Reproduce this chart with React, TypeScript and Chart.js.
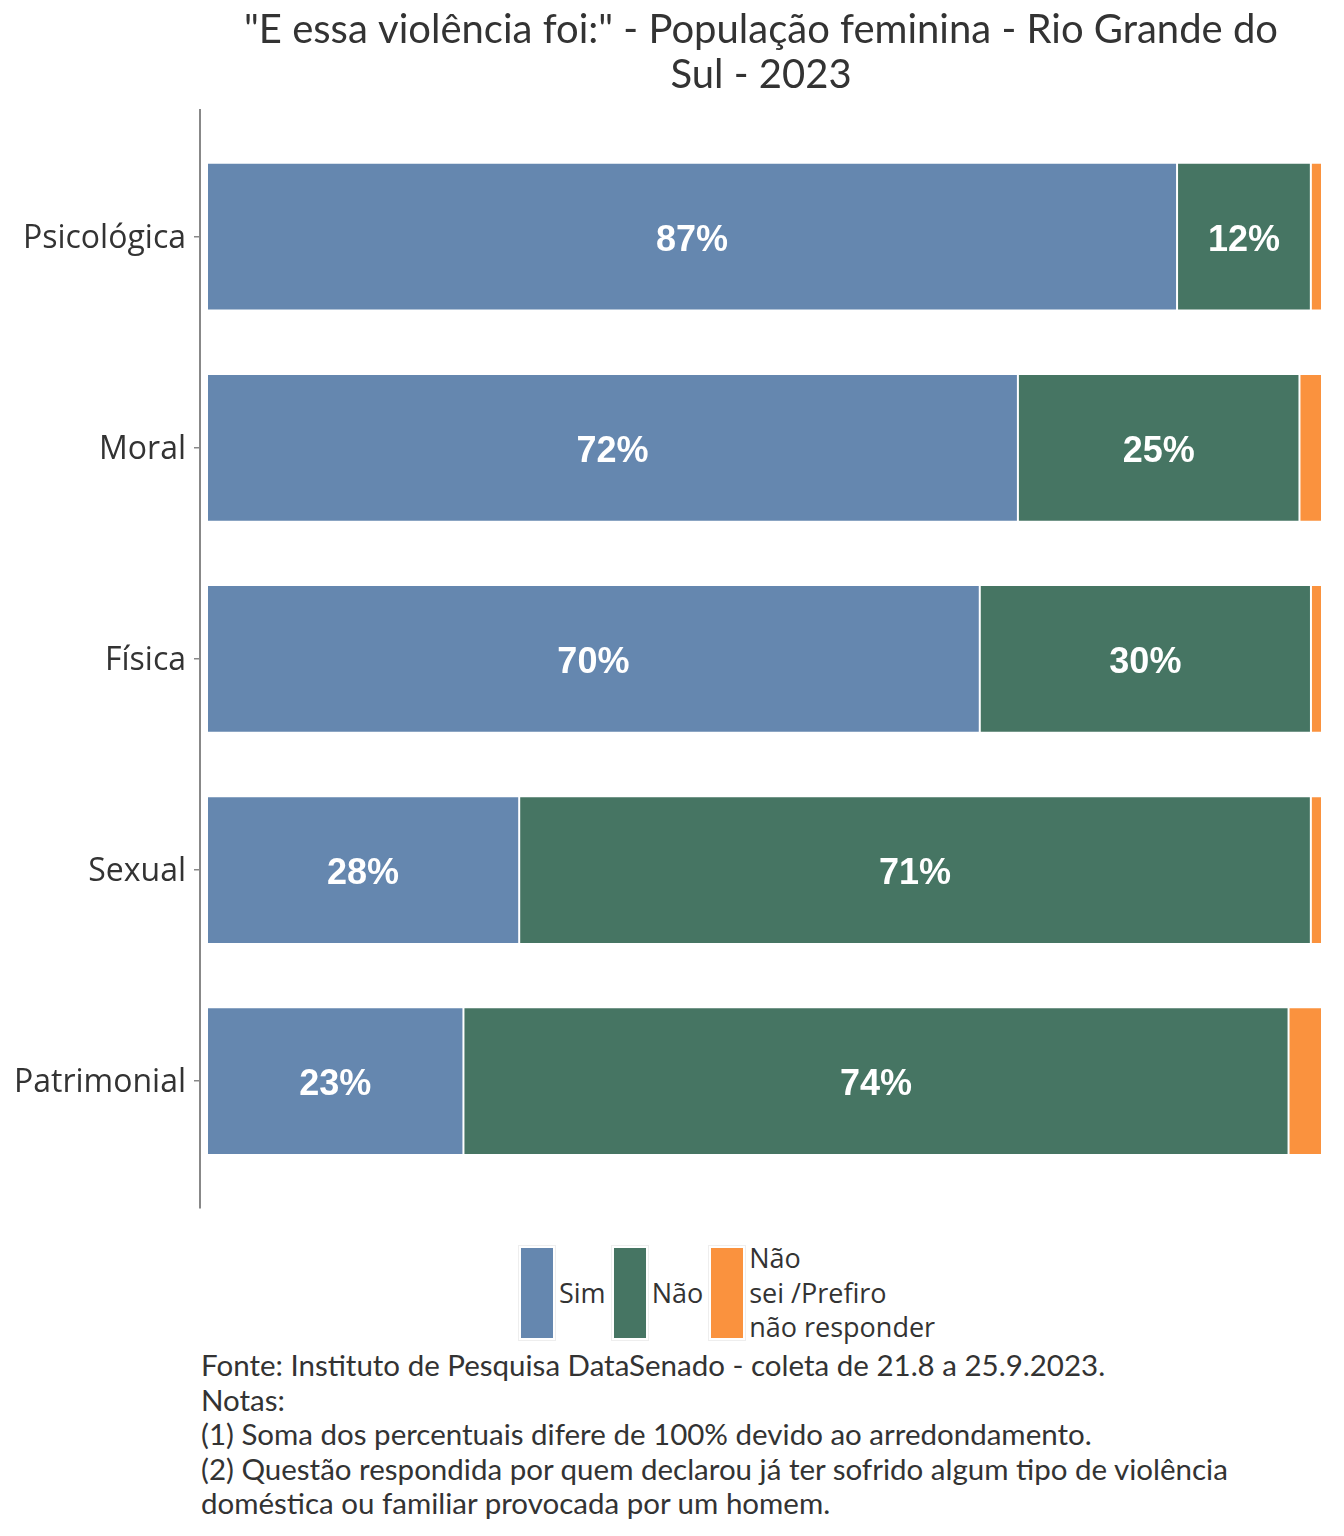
import React, { useEffect, useRef } from "react";
import { Chart, registerables } from "chart.js";

Chart.register(...registerables);

const categories = ["Psicológica", "Moral", "Física", "Sexual", "Patrimonial"];
const seriesNames = ["Sim", "Não", "Não sei /Prefiro não responder"];
const legendLines = [["Sim"], ["Não"], ["Não", "sei /Prefiro", "não responder"]];
const sim = [87, 72, 70, 28, 23];
const nao = [12, 25, 30, 71, 74];
const naoSei = [1, 2, 1, 1, 3];
const seriesValues = [sim, nao, naoSei];
const colors = ["#6587AF", "#467563", "#FA923E"];
const titleLines = ['"E essa violência foi:" - População feminina - Rio Grande do', "Sul - 2023"];
const notes = [
  "Fonte: Instituto de Pesquisa DataSenado - coleta de 21.8 a 25.9.2023.",
  "Notas:",
  "(1) Soma dos percentuais difere de 100% devido ao arredondamento.",
  "(2) Questão respondida por quem declarou já ter sofrido algum tipo de violência",
  "doméstica ou familiar provocada por um homem.",
];

const totals = categories.map((_, i) => seriesValues.reduce((s, arr) => s + arr[i], 0));

const barLabels = {
  id: "barLabels",
  afterDatasetsDraw(chart: any) {
    const ctx = chart.ctx;
    ctx.save();
    ctx.font = 'bold 36px "Liberation Sans", Arial, sans-serif';
    ctx.fillStyle = "#ffffff";
    ctx.textAlign = "center";
    ctx.textBaseline = "middle";
    chart.data.datasets.forEach((_ds: any, di: number) => {
      const meta = chart.getDatasetMeta(di);
      meta.data.forEach((bar: any, i: number) => {
        const v = seriesValues[di][i];
        if (v < 5) return;
        const p = bar.getProps(["x", "y", "base"], true);
        ctx.fillText(v + "%", (p.x + p.base) / 2, p.y + 4);
      });
    });
    ctx.restore();
  },
};

export default function App() {
  const ref = useRef<HTMLCanvasElement | null>(null);
  useEffect(() => {
    if (!ref.current) return;
    const chart = new Chart(ref.current, {
      type: "bar",
      data: {
        datasets: seriesNames.map((name, di) => ({
          label: name,
          data: categories.map((_, i) => ({ x: seriesValues[di][i] / totals[i], y: i })),
          backgroundColor: colors[di],
          borderColor: "#ffffff",
          borderWidth: 1,
          borderSkipped: false,
          barPercentage: 0.7,
          categoryPercentage: 1,
        })),
      },
      options: {
        indexAxis: "y",
        animation: false,
        responsive: true,
        maintainAspectRatio: false,
        layout: { padding: { left: 0, right: 14, top: 0, bottom: 0 } },
        plugins: {
          legend: { display: false },
          tooltip: { enabled: false },
          title: {
            display: true,
            text: titleLines,
            fullSize: false,
            color: "#333333",
            font: { family: "Lato", size: 40, weight: "normal", lineHeight: 1.125 },
            padding: { top: 0, bottom: 12 },
          },
        },
        scales: {
          x: {
            type: "linear",
            min: -0.00628,
            max: 1,
            stacked: true,
            display: false,
          },
          y: {
            type: "linear",
            min: -0.6,
            max: 4.6,
            reverse: true,
            stacked: true,
            offset: false,
            afterBuildTicks: (s: any) => {
              s.ticks = categories.map((_, i) => ({ value: i }));
            },
            afterFit: (s: any) => {
              s.width = 192;
            },
            ticks: {
              autoSkip: false,
              callback: (v: any) => categories[v as number],
              color: "#333333",
              font: { family: '"Open Sans"', size: 32 },
              padding: 8,
              labelOffset: 2,
            },
            grid: {
              offset: false,
              drawOnChartArea: false,
              drawTicks: true,
              tickLength: 6,
              color: "#888888",
              lineWidth: 1.5,
            },
            border: { display: true, color: "#888888", width: 2 },
          },
        },
      },
      plugins: [barLabels],
    } as any);
    return () => chart.destroy();
  }, []);

  return (
    <div style={{ width: 1328, color: "#333333" }}>
      <div style={{ position: "relative", width: 1328, height: 1227 }}>
        <canvas ref={ref} />
      </div>
      <div style={{ display: "flex", alignItems: "center", marginLeft: 510, marginTop: 10, height: 96 }}>
        {seriesNames.map((n, i) => (
          <div key={n} style={{ display: "flex", alignItems: "center", marginRight: 5 }}>
            <div style={{ border: "1px solid #eeeeee", padding: 2, background: "#ffffff" }}>
              <div style={{ width: 32, height: 90, background: colors[i] }} />
            </div>
            <div
              style={{
                marginLeft: 3,
                fontFamily: '"Open Sans"',
                fontSize: 27,
                lineHeight: "34.5px",
                whiteSpace: "nowrap",
              }}
            >
              {legendLines[i].map((l) => (
                <div key={l}>{l}</div>
              ))}
            </div>
          </div>
        ))}
      </div>
      <div
        style={{
          marginLeft: 193,
          marginTop: 7,
          fontFamily: "Lato",
          fontSize: 29.5,
          lineHeight: "34.5px",
          whiteSpace: "nowrap",
        }}
      >
        {notes.map((l) => (
          <div key={l}>{l}</div>
        ))}
      </div>
    </div>
  );
}
